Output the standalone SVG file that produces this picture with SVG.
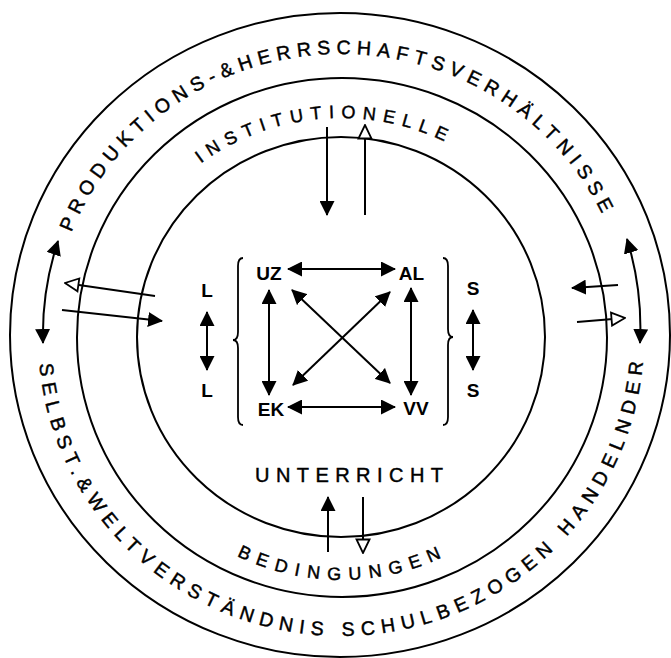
<svg xmlns="http://www.w3.org/2000/svg" width="671" height="658" viewBox="0 0 671 658">
<defs>
<style>
.ring{fill:none;stroke:#000;stroke-width:2}
.c{fill:none;stroke:#000;stroke-width:2}
.t{font-family:"Liberation Sans",Arial,sans-serif;fill:#000}
.arc{font-size:19.5px;text-anchor:middle;stroke:#000;stroke-width:0.45}
.arc2{font-size:18px;text-anchor:middle;stroke:#000;stroke-width:0.45}
.lbl{font-size:19px;font-weight:bold;text-anchor:middle}
.br{fill:none;stroke:#000;stroke-width:1.8}
.fa{marker-end:url(#fh)}
.da{marker-start:url(#fh);marker-end:url(#fh)}
.oa{marker-end:url(#oh)}
</style>
<marker id="fh" viewBox="0 0 15 15" refX="14" refY="7.5" markerWidth="15" markerHeight="15" markerUnits="userSpaceOnUse" orient="auto-start-reverse"><path d="M0,0 L15,7.5 L0,15 z" fill="#000"/></marker>
<marker id="oh" viewBox="0 0 16 16" refX="15" refY="8" markerWidth="16" markerHeight="16" markerUnits="userSpaceOnUse" orient="auto"><path d="M1.5,1.5 L15,8 L1.5,14.5 z" fill="#fff" stroke="#000" stroke-width="1.8"/></marker>
<path id="pTop" d="M51,337 A290,283 0 0 1 631,337"/>
<path id="pBot" d="M38,337 A303,299 0 0 0 644,337"/>
<path id="pInTop" d="M111,337 A230,219 0 0 1 571,337"/>
<path id="pInBot" d="M101,337 A240,243 0 0 0 581,337"/>
</defs>
<rect width="671" height="658" fill="#fff"/>

<g id="ring-outer">
<ellipse class="ring" cx="340" cy="335" rx="330" ry="322"/>
<text class="t arc"><textPath href="#pTop" startOffset="439.5" textLength="665" lengthAdjust="spacing">PRODUKTIONS-&amp;HERRSCHAFTSVERHÄLTNISSE</textPath></text>
<text class="t arc"><textPath href="#pBot" startOffset="473.6" textLength="893" lengthAdjust="spacing">SELBST.&amp;WELTVERSTÄNDNIS SCHULBEZOGEN HANDELNDER</textPath></text>
</g>

<g id="ring-middle">
<ellipse class="ring" cx="342" cy="337.5" rx="265" ry="259.5"/>
<text class="t arc2"><textPath href="#pInTop" startOffset="331" textLength="257" lengthAdjust="spacing">INSTITUTIONELLE</textPath></text>
<text class="t arc2"><textPath href="#pInBot" startOffset="377.2" textLength="212" lengthAdjust="spacing">BEDINGUNGEN</textPath></text>
</g>

<g id="ring-inner">
<ellipse class="ring" cx="341" cy="337" rx="204" ry="200"/>
<text class="t" x="349" y="482" font-size="20" text-anchor="middle" textLength="188" lengthAdjust="spacing" stroke="#000" stroke-width="0.45">UNTERRICHT</text>
</g>

<g id="node-UZ"><text class="t lbl" x="269" y="280">UZ</text></g>
<g id="node-AL"><text class="t lbl" x="411.5" y="280">AL</text></g>
<g id="node-EK"><text class="t lbl" x="271" y="416">EK</text></g>
<g id="node-VV"><text class="t lbl" x="416" y="415">VV</text></g>
<g id="node-L">
<text class="t lbl" x="207" y="297">L</text>
<text class="t lbl" x="207" y="397">L</text>
</g>
<g id="node-S">
<text class="t lbl" x="473" y="295">S</text>
<text class="t lbl" x="473" y="397">S</text>
</g>
<g id="brace-left"><path class="br" d="M243,258 Q238,258 238,266 L238,332 Q238,340 233,340 Q238,340 238,348 L238,417 Q238,425 243,425"/></g>
<g id="brace-right"><path class="br" d="M443,258 Q448,258 448,266 L448,329 Q448,337 453,337 Q448,337 448,345 L448,417 Q448,425 443,425"/></g>

<g id="connectors">
<path class="c fa" d="M327,127 L327,215"/>
<path class="c oa" d="M365,215 L365,125"/>
<path class="c fa" d="M328,552 L328,497"/>
<path class="c oa" d="M363,497 L363,553"/>
<path class="c oa" d="M155,296 L65,283"/>
<path class="c fa" d="M62,310 L162,321"/>
<path class="c da" d="M58,241 A299,299 0 0 0 43,343"/>
<path class="c fa" d="M618,285 L572,288"/>
<path class="c oa" d="M577,322 L625,318"/>
<path class="c da" d="M627,239 A300,300 0 0 1 640,343"/>
<path class="c da" d="M288,269 L395,269"/>
<path class="c da" d="M288,407 L395,407"/>
<path class="c da" d="M269,290 L269,395"/>
<path class="c da" d="M411,288 L411,395"/>
<path class="c da" d="M292,290 L390,383"/>
<path class="c da" d="M390,292 L293,385"/>
<path class="c da" d="M207,312 L207,370"/>
<path class="c da" d="M473,310 L473,370"/>
</g>
</svg>
